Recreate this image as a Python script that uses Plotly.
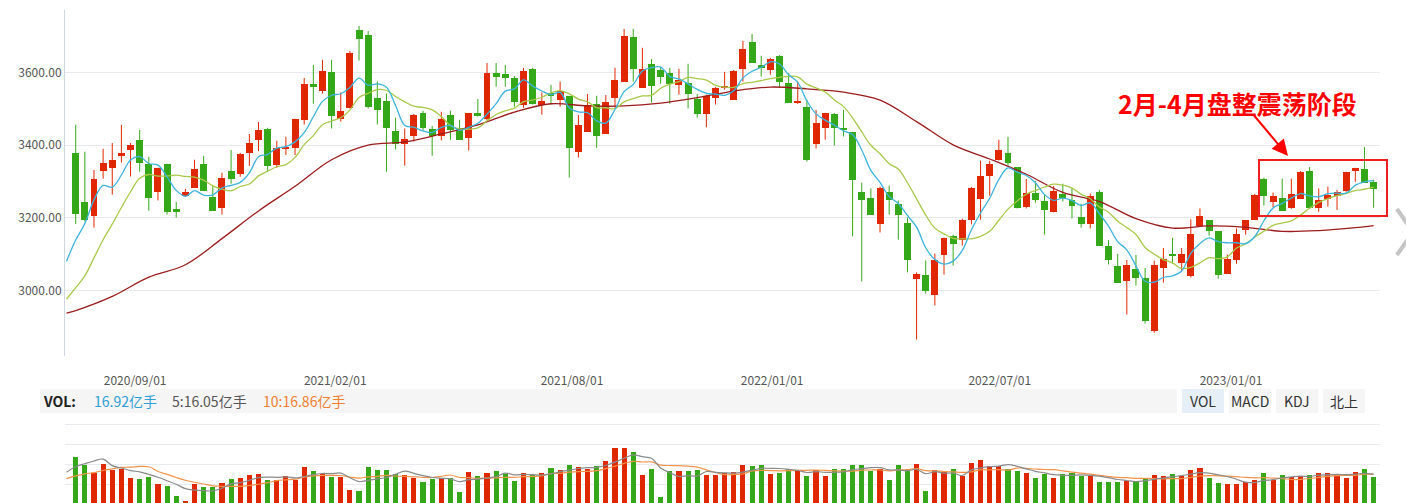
import plotly.graph_objects as go
import pandas as pd

# ---------------- data (weekly candles) ----------------
opens = [3379, 3244, 3206, 3330, 3338, 3371, 3388, 3415, 3349, 3272,
         3349, 3225, 3260, 3283, 3349, 3258, 3226, 3329, 3321, 3379,
         3415, 3445, 3346, 3390, 3393, 3470, 3569, 3550, 3602, 3473,
         3501, 3717, 3703, 3530, 3522, 3439, 3402, 3426, 3489, 3445,
         3424, 3483, 3446, 3421, 3489, 3473, 3599, 3596, 3585, 3512,
         3610, 3512, 3545, 3525, 3536, 3382, 3437, 3514, 3432, 3531,
         3575, 3698, 3558, 3624, 3607, 3599, 3567, 3571, 3527, 3487,
         3531, 3558, 3525, 3611, 3684, 3621, 3608, 3646, 3571, 3517,
         3505, 3404, 3448, 3486, 3448, 3437, 3270, 3256, 3182, 3270,
         3239, 3187, 3033, 3044, 2989, 3099, 3151, 3140, 3195, 3253,
         3314, 3360, 3379, 3340, 3231, 3269, 3247, 3215, 3266, 3250,
         3203, 3182, 3272, 3123, 3068, 3025, 3060, 3035, 2890, 3061,
         3101, 3075, 3039, 3179, 3194, 3164, 3047, 3085, 3168, 3195,
         3308, 3243, 3255, 3228, 3253, 3329, 3226, 3252, 3261, 3275,
         3329, 3335, 3300]
highs = [3456, 3382, 3332, 3390, 3406, 3456, 3406, 3442, 3368, 3338,
         3349, 3244, 3280, 3360, 3371, 3288, 3324, 3387, 3379, 3431,
         3464, 3448, 3412, 3423, 3473, 3585, 3621, 3635, 3635, 3545,
         3659, 3728, 3714, 3575, 3542, 3476, 3446, 3486, 3495, 3453,
         3492, 3495, 3470, 3489, 3527, 3626, 3626, 3621, 3590, 3613,
         3613, 3545, 3566, 3575, 3536, 3483, 3541, 3536, 3538, 3613,
         3720, 3720, 3668, 3637, 3615, 3613, 3610, 3624, 3541, 3539,
         3560, 3602, 3607, 3687, 3706, 3646, 3640, 3648, 3598, 3575,
         3525, 3497, 3489, 3489, 3497, 3437, 3297, 3281, 3286, 3289,
         3248, 3201, 3050, 3083, 3102, 3146, 3154, 3198, 3285, 3357,
         3357, 3415, 3423, 3340, 3307, 3302, 3263, 3288, 3294, 3281,
         3239, 3267, 3277, 3139, 3101, 3084, 3098, 3062, 3082, 3117,
         3145, 3117, 3196, 3226, 3194, 3164, 3099, 3171, 3194, 3266,
         3311, 3270, 3308, 3308, 3329, 3340, 3281, 3286, 3277, 3327,
         3338, 3395, 3305]
lows = [3183, 3190, 3173, 3308, 3264, 3352, 3314, 3327, 3220, 3248,
        3209, 3201, 3260, 3283, 3275, 3220, 3209, 3294, 3313, 3343,
        3384, 3327, 3338, 3373, 3373, 3457, 3514, 3542, 3446, 3465,
        3501, 3633, 3501, 3457, 3327, 3388, 3344, 3410, 3440, 3371,
        3413, 3415, 3415, 3385, 3479, 3468, 3561, 3561, 3506, 3503,
        3512, 3484, 3512, 3506, 3311, 3366, 3437, 3393, 3432, 3503,
        3575, 3575, 3558, 3517, 3569, 3514, 3539, 3501, 3476, 3449,
        3512, 3553, 3525, 3575, 3627, 3589, 3594, 3558, 3517, 3514,
        3355, 3391, 3415, 3399, 3424, 3149, 3025, 3209, 3160, 3209,
        3140, 3050, 2865, 2992, 2959, 3044, 3069, 3124, 3182, 3195,
        3261, 3358, 3344, 3226, 3226, 3242, 3154, 3215, 3245, 3198,
        3173, 3171, 3124, 3072, 3022, 2934, 3014, 2909, 2884, 3022,
        3074, 3055, 3036, 3179, 3151, 3033, 3047, 3074, 3154, 3195,
        3234, 3229, 3220, 3225, 3253, 3228, 3217, 3231, 3222, 3272,
        3299, 3297, 3228]
closes = [3212, 3193, 3307, 3351, 3360, 3379, 3401, 3352, 3256, 3338,
          3217, 3215, 3271, 3335, 3275, 3220, 3310, 3307, 3376, 3406,
          3442, 3343, 3393, 3395, 3473, 3569, 3561, 3605, 3479, 3494,
          3654, 3691, 3506, 3498, 3448, 3402, 3417, 3483, 3446, 3426,
          3473, 3443, 3415, 3489, 3481, 3599, 3589, 3586, 3520, 3604,
          3514, 3522, 3536, 3550, 3393, 3456, 3512, 3424, 3519, 3580,
          3701, 3611, 3610, 3564, 3589, 3569, 3580, 3542, 3487, 3536,
          3558, 3563, 3604, 3665, 3627, 3613, 3638, 3575, 3517, 3520,
          3358, 3461, 3489, 3448, 3443, 3305, 3248, 3209, 3283, 3248,
          3209, 3085, 3047, 3000, 3085, 3146, 3127, 3195, 3283, 3316,
          3349, 3387, 3352, 3226, 3269, 3250, 3223, 3274, 3256, 3234,
          3184, 3259, 3124, 3085, 3022, 3071, 3036, 2915, 3071, 3087,
          3094, 3102, 3157, 3206, 3165, 3044, 3086, 3157, 3194, 3263,
          3261, 3261, 3220, 3266, 3327, 3228, 3250, 3263, 3272, 3327,
          3338, 3297, 3280]
# weekly volume (亿手)
volumes = [23.7, 19.7, 15.8, 20.2, 17.3, 17.7, 13.2, 12.7, 13.7, 10.2,
           9.2, 4.2, 1.8, 10.2, 8.7, 8.7, 10.7, 12.7, 13.2, 14.7,
           15.2, 12.2, 12.2, 14.2, 12.2, 18.7, 16.7, 15.2, 13.7, 13.7,
           7.2, 6.7, 18.7, 17.2, 17.2, 15.2, 14.7, 13.2, 11.2, 12.7,
           13.2, 13.2, 6.2, 16.2, 14.2, 15.7, 16.7, 15.2, 11.7, 15.7,
           14.7, 15.7, 18.2, 17.2, 19.7, 18.7, 17.7, 19.2, 21.7, 28.2,
           28.2, 26.2, 14.7, 17.7, 3.7, 16.7, 16.7, 16.7, 17.2, 14.7,
           14.7, 15.5, 16.0, 19.7, 19.2, 19.7, 15.2, 15.7, 17.7, 16.7,
           14.2, 17.2, 14.2, 17.7, 17.7, 19.7, 19.7, 16.7, 17.7, 12.2,
           19.7, 17.7, 20.2, 6.7, 17.2, 16.2, 17.7, 14.2, 20.7, 22.2,
           19.2, 19.2, 17.7, 16.7, 15.7, 13.2, 15.2, 13.2, 15.2, 15.7,
           14.2, 14.2, 11.2, 11.2, 11.2, 11.7, 11.7, 13.2, 14.7, 14.2,
           15.2, 14.2, 17.2, 18.2, 13.2, 10.7, 10.2, 10.2, 11.2, 12.2,
           15.7, 12.2, 14.7, 13.7, 14.2, 14.7, 15.7, 15.7, 14.7, 13.2,
           16.2, 17.7, 13.7]
# values just before the visible window (needed for the moving averages at the left edge)
prior_close = [2895, 2868, 2814, 2852, 2931, 2920, 2968, 2980, 3153, 3383]
prior_volume = [9.6, 9.6, 9.6, 9.6, 9.6, 10.0, 12.0, 9.0, 15.5, 33.6]
# long moving average (dark red line), read every 4 candles
long_ma_idx = [-1, 0, 4, 8, 12, 16, 20, 24, 28, 32, 36, 40, 44, 48, 52, 56, 60, 64,
               68, 72, 76, 80, 84, 88, 92, 96, 100, 104, 108, 112, 116, 120, 124,
               128, 132, 136, 140, 142]
long_ma_val = [2938, 2945, 2984, 3037, 3071, 3143, 3219, 3287, 3360, 3400, 3409,
               3431, 3456, 3491, 3514, 3508, 3508, 3516, 3531, 3549, 3560, 3555,
               3546, 3524, 3465, 3401, 3362, 3320, 3270, 3245, 3198, 3172, 3178,
               3174, 3163, 3165, 3173, 3179]
price_ticks = [3000, 3200, 3400, 3600]
date_labels = ["2020/09/01", "2021/02/01", "2021/08/01", "2022/01/01", "2022/07/01", "2023/01/01"]
date_label_pos = [6.5, 28.4, 54.3, 76.2, 101.1, 126.4]
vol_text = ["16.92亿手", "5:16.05亿手", "10:16.86亿手"]
buttons = ["VOL", "MACD", "KDJ", "北上"]
note_text = "2月-4月盘整震荡阶段"

# ---------------- styles ----------------
RED = "#e02800"
GREEN = "#35a81a"
FONT = "Noto Sans CJK SC"
W, H = 1406, 503
ML, MR, MT, MB = 65, 26, 10, 0
PW, PH = W - ML - MR, H - MT - MB


def px(p):  # pixel x -> paper
    return (p - ML) / PW


def py(p):  # pixel y -> paper
    return (H - MB - p) / PH


n = len(closes)
idx = list(range(n))
up = [c >= o for o, c in zip(opens, closes)]
colors = [RED if u else GREEN for u in up]

# moving averages
cs = pd.Series(prior_close + closes, dtype=float)
ma5 = cs.rolling(5).mean().iloc[len(prior_close) - 1:].tolist()
ma10 = cs.rolling(10).mean().iloc[len(prior_close) - 1:].tolist()
ma_x = list(range(-1, n))
vs = pd.Series(prior_volume + volumes, dtype=float)
vma5 = vs.rolling(5).mean().iloc[len(prior_volume) - 1:].tolist()
vma10 = vs.rolling(10).mean().iloc[len(prior_volume) - 1:].tolist()

fig = go.Figure()

# wicks
for want, col in ((True, RED), (False, GREEN)):
    wx, wy = [], []
    for i in idx:
        if up[i] == want:
            wx += [i, i, None]
            wy += [lows[i], highs[i], None]
    fig.add_trace(go.Scatter(x=wx, y=wy, mode="lines", line=dict(color=col, width=1),
                             hoverinfo="skip", xaxis="x", yaxis="y"))

# bodies
fig.add_trace(go.Bar(x=idx, y=[abs(c - o) for o, c in zip(opens, closes)],
                     base=[min(o, c) for o, c in zip(opens, closes)],
                     width=0.76, marker=dict(color=colors, line=dict(width=0)),
                     xaxis="x", yaxis="y"))

# moving averages of price
fig.add_trace(go.Scatter(x=long_ma_idx, y=long_ma_val, mode="lines", line_shape="spline",
                         line=dict(color="#9b1c1c", width=1.3), xaxis="x", yaxis="y"))
fig.add_trace(go.Scatter(x=ma_x, y=ma10, mode="lines", line_shape="spline",
                         line=dict(color="#a9c94b", width=1.3), xaxis="x", yaxis="y"))
fig.add_trace(go.Scatter(x=ma_x, y=ma5, mode="lines", line_shape="spline",
                         line=dict(color="#3cb3dc", width=1.3), xaxis="x", yaxis="y"))

# volume
fig.add_trace(go.Bar(x=idx, y=volumes, width=0.56, marker=dict(color=colors, line=dict(width=0)),
                     xaxis="x2", yaxis="y2"))
fig.add_trace(go.Scatter(x=ma_x, y=vma10, mode="lines", line_shape="spline",
                         line=dict(color="#f3934a", width=1.2), xaxis="x2", yaxis="y2"))
fig.add_trace(go.Scatter(x=ma_x, y=vma5, mode="lines", line_shape="spline",
                         line=dict(color="#8a8a8a", width=1.2), xaxis="x2", yaxis="y2"))

xr = [-1.17, 142.7]
GRID = "#e7eaef"
fig.update_layout(
    width=W, height=H, margin=dict(l=ML, r=MR, t=MT, b=MB),
    paper_bgcolor="white", plot_bgcolor="white", showlegend=False,
    font=dict(family=FONT, size=12, color="#555"),
    bargap=0,
    xaxis=dict(domain=[0, 1], range=xr, anchor="y", showgrid=False, zeroline=False,
               tickvals=date_label_pos, ticktext=date_labels, ticks="outside", ticklen=14,
               tickcolor="rgba(0,0,0,0)", tickfont=dict(size=12, color="#555")),
    yaxis=dict(domain=[py(356), 1], range=[2820, 3772], anchor="x", tickvals=price_ticks,
               tickformat=".2f", showgrid=True, gridcolor=GRID, gridwidth=1, zeroline=False,
               showline=True, linecolor="#cfd7e3", linewidth=1,
               tickfont=dict(size=12, color="#555")),
    xaxis2=dict(domain=[0, 1], range=xr, anchor="y2", showgrid=False, zeroline=False,
                showticklabels=False),
    yaxis2=dict(domain=[0, py(420)], range=[0.65, 42.15], anchor="x2", tickvals=[10, 20, 30, 40],
                showticklabels=False, showgrid=True, gridcolor=GRID, gridwidth=1, zeroline=False),
)

shapes = []
# VOL header band
shapes.append(dict(type="rect", xref="paper", yref="paper", x0=px(40), x1=px(1177),
                   y0=py(413), y1=py(389), fillcolor="#f5f5f5", line=dict(width=0), layer="below"))
btn_x = [(1182, 1224), (1229, 1271), (1276, 1318), (1323, 1365)]
for k, (a, b) in enumerate(btn_x):
    shapes.append(dict(type="rect", xref="paper", yref="paper", x0=px(a), x1=px(b),
                       y0=py(413), y1=py(389),
                       fillcolor="#e6eef8" if k == 0 else "#f5f5f5", line=dict(width=0), layer="below"))
# highlight box
shapes.append(dict(type="rect", xref="paper", yref="paper", x0=px(1259), x1=px(1387),
                   y0=py(216), y1=py(160), line=dict(color="#f02020", width=2)))
# right edge chevron
shapes.append(dict(type="path", xref="paper", yref="paper",
                   path=f"M {px(1397)},{py(209)} L {px(1413)},{py(232)} L {px(1397)},{py(255)}",
                   line=dict(color="#c4c4c4", width=4)))
fig.update_layout(shapes=shapes)

ann = []
ann.append(dict(text="<b>VOL:</b>", x=px(41), y=py(401), xref="paper", yref="paper",
                xanchor="left", yanchor="middle", showarrow=False,
                font=dict(size=14, color="#222", family=FONT)))
for t, xpos, col in zip(vol_text, [92, 170, 261], ["#2c9fd6", "#555555", "#f08030"]):
    ann.append(dict(text=t, x=px(xpos), y=py(401), xref="paper", yref="paper",
                    xanchor="left", yanchor="middle", showarrow=False,
                    font=dict(size=14, color=col, family=FONT)))
for t, (a, b) in zip(buttons, btn_x):
    ann.append(dict(text=t, x=px((a + b) / 2), y=py(401), xref="paper", yref="paper",
                    xanchor="center", yanchor="middle", showarrow=False,
                    font=dict(size=14, color="#333", family=FONT)))
ann.append(dict(text=f"<b>{note_text}</b>", x=px(1116), y=py(103), xref="paper", yref="paper",
                xanchor="left", yanchor="middle", showarrow=False,
                font=dict(size=25, color="#ff0000", family=FONT)))
ann.append(dict(text="", x=px(1288), y=py(156), xref="paper", yref="paper",
                ax=-36, ay=-43, showarrow=True, arrowhead=2, arrowsize=1.6, arrowwidth=2,
                arrowcolor="#ff0000"))
fig.update_layout(annotations=ann)

fig.write_html("out.html")
